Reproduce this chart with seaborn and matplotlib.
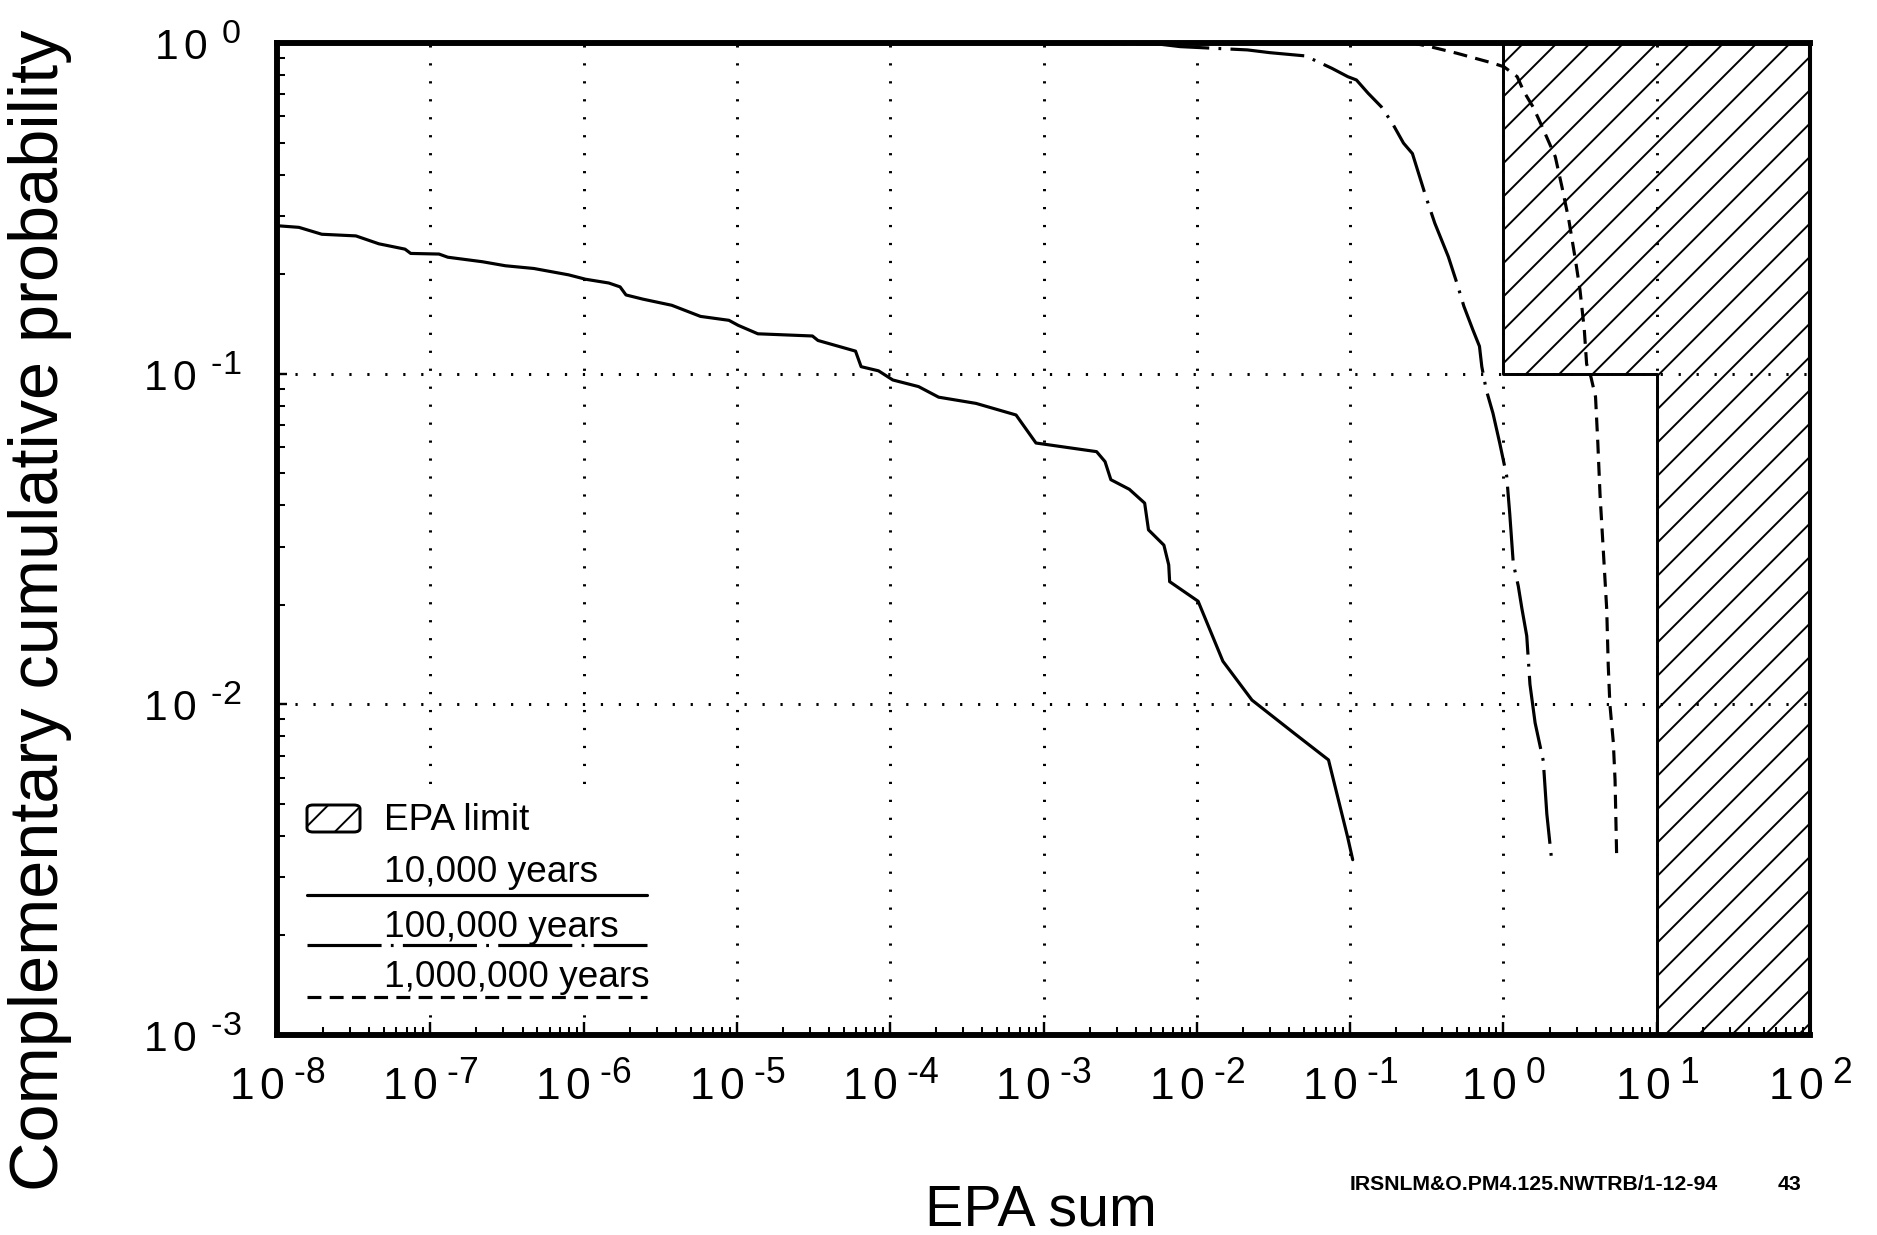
import math
import matplotlib
matplotlib.use("Agg")
import matplotlib.pyplot as plt
import matplotlib._mathtext as mathtext_internals
import seaborn as sns
from matplotlib.ticker import FixedLocator, FuncFormatter, NullFormatter
from matplotlib.patches import Rectangle, FancyBboxPatch

# ---- data: EPA sum vs. complementary cumulative probability ----
epa_10k = [1.02e-8, 1.39e-8, 1.96e-8, 3.27e-8, 4.62e-8, 6.84e-8, 7.45e-8, 1.14e-7,
           1.30e-7, 2.19e-7, 3.09e-7, 4.74e-7, 7.98e-7, 1.03e-6, 1.46e-6, 1.73e-6,
           1.89e-6, 2.44e-6, 3.76e-6, 5.79e-6, 8.87e-6, 1.02e-5, 1.37e-5, 3.11e-5,
           3.38e-5, 5.94e-5, 6.46e-5, 8.39e-5, 1.04e-4, 1.53e-4, 2.07e-4, 3.63e-4,
           6.62e-4, 8.93e-4, 2.22e-3, 2.52e-3, 2.75e-3, 3.63e-3, 4.57e-3, 4.84e-3,
           6.10e-3, 6.56e-3, 6.65e-3, 1.02e-2, 1.48e-2, 2.29e-2, 4.31e-2, 7.23e-2,
           9.62e-2, 0.104]
ccp_10k = [0.280, 0.277, 0.264, 0.261, 0.247, 0.238, 0.231, 0.230,
           0.225, 0.218, 0.212, 0.208, 0.199, 0.193, 0.188, 0.183,
           0.173, 0.168, 0.161, 0.149, 0.145, 0.140, 0.132, 0.130,
           0.126, 0.117, 0.105, 0.102, 0.0957, 0.0914, 0.0849, 0.0813,
           0.0750, 0.0617, 0.0581, 0.0542, 0.0478, 0.0447, 0.0406, 0.0337,
           0.0303, 0.0264, 0.0235, 0.0205, 0.0135, 0.0103, 0.00818, 0.00679,
           0.00398, 0.00339]

epa_100k = [1e-8, 1e-3, 5.6e-3, 7.8e-3, 2.14e-2, 2.99e-2, 5.11e-2, 7.62e-2,
            9.66e-2, 0.110, 0.131, 0.160, 0.189, 0.223, 0.255, 0.312,
            0.357, 0.437, 0.499, 0.552, 0.631, 0.698, 0.723, 0.773,
            0.855, 0.946, 1.05, 1.10, 1.16, 1.25, 1.32, 1.42,
            1.49, 1.61, 1.82, 1.92, 2.07]
ccp_100k = [1.0, 1.0, 0.993, 0.975, 0.953, 0.935, 0.914, 0.838,
            0.791, 0.773, 0.705, 0.641, 0.571, 0.498, 0.463, 0.343,
            0.285, 0.226, 0.187, 0.160, 0.136, 0.121, 0.105, 0.0893,
            0.0759, 0.0617, 0.0491, 0.0377, 0.0267, 0.0228, 0.0195, 0.0161,
            0.0115, 0.00879, 0.00675, 0.00466, 0.00334]

epa_1m = [1e-8, 0.255, 0.332, 0.498, 0.855, 1.01, 1.23, 1.36,
          1.56, 1.73, 1.91, 2.18, 2.41, 2.67, 2.95, 3.16,
          3.37, 3.49, 3.72, 3.99, 4.13, 4.27, 4.49, 4.72,
          4.83, 4.95, 5.21, 5.35, 5.48]
ccp_1m = [1.0, 1.0, 0.975, 0.931, 0.869, 0.847, 0.791, 0.713,
          0.641, 0.578, 0.521, 0.453, 0.367, 0.292, 0.221, 0.179,
          0.136, 0.107, 0.0979, 0.0851, 0.0617, 0.0430, 0.0289, 0.0194,
          0.0131, 0.0100, 0.00769, 0.00590, 0.00348]

# EPA containment limit (step boundary)
epa_limit_sum = [1.0, 10.0, 100.0]
epa_limit_prob = [0.1, 0.001, 0.001]

x_decades = [-8, -7, -6, -5, -4, -3, -2, -1, 0, 1, 2]
y_decades = [-3, -2, -1, 0]

series_labels = ["10,000 years", "100,000 years", "1,000,000 years"]
limit_label = "EPA limit"
x_label = "EPA sum"
y_label = "Complementary cumulative probability"
footer_id = "IRSNLM&O.PM4.125.NWTRB/1-12-94"
page_number = "43"

# ---- styling ----
DPI = 100
K = 4.0 / 3.0   # sizes below are given in 1/133-inch units


def pt(v):
    return v * K


# slightly larger exponents than the mathtext default
mathtext_internals.SHRINK_FACTOR = 0.8

sns.set_theme(style="white")
plt.rcParams.update({
    "lines.scale_dashes": False,
    "hatch.linewidth": 1.4,
    "hatch.color": "black",
    "mathtext.fontset": "custom",
    "mathtext.rm": "Liberation Sans",
    "mathtext.it": "Liberation Sans:italic",
    "mathtext.bf": "Liberation Sans:bold",
    "axes.edgecolor": "black",
    "text.color": "black",
    "xtick.color": "black",
    "ytick.color": "black",
})
plt.rcParams["font.family"] = ["Liberation Sans", "DejaVu Sans"]

W, H = 1877, 1235
fig = plt.figure(figsize=(W / DPI, H / DPI), dpi=DPI, facecolor="white")
ax_l, ax_r, ax_t, ax_b = 277, 1810, 43, 1035
ax = fig.add_axes([ax_l / W, (H - ax_b) / H, (ax_r - ax_l) / W, (ax_b - ax_t) / H])
ax.set_facecolor("white")
ax.set_xscale("log")
ax.set_yscale("log")
ax.set_xlim(10.0 ** x_decades[0], 10.0 ** x_decades[-1])
ax.set_ylim(10.0 ** y_decades[0], 10.0 ** y_decades[-1])

# line styles
solid = "-"
dashdot = (0, (pt(40), pt(5), pt(1.5), pt(5)))
dashed = (0, (pt(7.5), pt(4.5)))
curve_lw = pt(1.7)

# EPA limit region (hatched, transparent so the grid shows through)
ax.fill_between(epa_limit_sum, epa_limit_prob, 1.0, step="post",
                facecolor="none", edgecolor="black", hatch="/",
                linewidth=pt(1.6), zorder=1.5)

sns.lineplot(x=epa_10k, y=ccp_10k, ax=ax, color="black", linewidth=curve_lw,
             linestyle=solid, estimator=None, sort=False, zorder=2)
sns.lineplot(x=epa_100k, y=ccp_100k, ax=ax, color="black", linewidth=curve_lw,
             linestyle=dashdot, estimator=None, sort=False, zorder=2)
sns.lineplot(x=epa_1m, y=ccp_1m, ax=ax, color="black", linewidth=curve_lw,
             linestyle=dashed, estimator=None, sort=False, zorder=2)

# ---- axes, ticks, grid ----
ax.set_axisbelow(True)
ax.grid(True, which="major", color="black",
        linestyle=(0, (pt(1.2), pt(8.5))), linewidth=pt(1.6))
ax.grid(False, which="minor")

ax.xaxis.set_major_locator(FixedLocator([10.0 ** d for d in x_decades]))
ax.yaxis.set_major_locator(FixedLocator([10.0 ** d for d in y_decades]))
minor_x = [m * 10.0 ** d for d in x_decades[:-1] for m in range(2, 10)]
minor_y = [m * 10.0 ** d for d in y_decades[:-1] for m in range(2, 10)]
ax.xaxis.set_minor_locator(FixedLocator(minor_x))
ax.yaxis.set_minor_locator(FixedLocator(minor_y))
ax.xaxis.set_minor_formatter(NullFormatter())
ax.yaxis.set_minor_formatter(NullFormatter())


def decade_label(gap):
    def fmt(v, pos):
        e = int(round(math.log10(v)))
        sign = r"\text{-}" if e < 0 else ""
        return r"$\mathregular{1\,0^{%s%s%d}}$" % (gap, sign, abs(e))
    return fmt


ax.xaxis.set_major_formatter(FuncFormatter(decade_label(r"\;")))
ax.yaxis.set_major_formatter(FuncFormatter(decade_label(r"\ \,")))

ax.tick_params(axis="x", which="major", direction="in", length=pt(7), width=pt(1.3),
               labelsize=pt(24), pad=pt(14), top=False, bottom=True)
ax.tick_params(axis="x", which="minor", direction="in", length=pt(4.3), width=pt(1.1),
               top=False, bottom=True)
ax.tick_params(axis="y", which="major", direction="in", length=pt(5.5), width=pt(1.3),
               labelsize=pt(23), pad=pt(19), right=False, left=True)
ax.tick_params(axis="y", which="minor", direction="in", length=pt(4.5), width=pt(1.1),
               right=False, left=True)

for side in ("left", "top", "bottom"):
    ax.spines[side].set_linewidth(pt(3.2))
ax.spines["right"].set_linewidth(pt(2.2))
for s in ax.spines.values():
    s.set_color("black")
    s.set_zorder(4)

ax.set_xlabel("")
ax.set_ylabel("")


# ---- legend block ----
def ax_x(px):
    return (px - ax_l) / (ax_r - ax_l)


def ax_y(py):
    return (ax_b - py) / (ax_b - ax_t)


ax.add_patch(Rectangle((ax_x(292), ax_y(1012)), ax_x(662) - ax_x(292),
                       ax_y(790) - ax_y(1012), transform=ax.transAxes,
                       facecolor="white", edgecolor="none", zorder=1))
ax.add_patch(FancyBboxPatch((ax_x(307), ax_y(832)), ax_x(360) - ax_x(307),
                            ax_y(805) - ax_y(832),
                            boxstyle="round,pad=0,rounding_size=0.004",
                            transform=ax.transAxes, facecolor="none",
                            edgecolor="black", hatch="/", linewidth=pt(1.6), zorder=3))
leg_fs = pt(20)
ax.text(ax_x(384), ax_y(820), limit_label, transform=ax.transAxes,
        fontsize=leg_fs, ha="left", va="center", zorder=3)
leg_rows = [(882, 895, solid), (937, 945, dashdot), (987, 997, dashed)]
for label, (base, ly, ls) in zip(series_labels, leg_rows):
    ax.text(ax_x(384), ax_y(base), label, transform=ax.transAxes,
            fontsize=leg_fs, ha="left", va="baseline", zorder=3)
    ax.plot([ax_x(307), ax_x(647)], [ax_y(ly), ax_y(ly)], transform=ax.transAxes,
            color="black", linewidth=curve_lw, linestyle=ls, zorder=3,
            clip_on=False)

# ---- figure texts ----
fig.text(40 / W, 1 - 610 / H, y_label, rotation=90, ha="center", va="center",
         fontsize=pt(37))
fig.text(1041 / W, 1 - 1210 / H, x_label, ha="center", va="center", fontsize=pt(31))
fig.text(1350 / W, 1 - 1185 / H, footer_id, ha="left", va="center",
         fontsize=pt(11.5), fontweight="bold")
fig.text(1778 / W, 1 - 1185 / H, page_number, ha="left", va="center",
         fontsize=pt(11.5), fontweight="bold")

fig.savefig("out.png", dpi=DPI, facecolor="white")
